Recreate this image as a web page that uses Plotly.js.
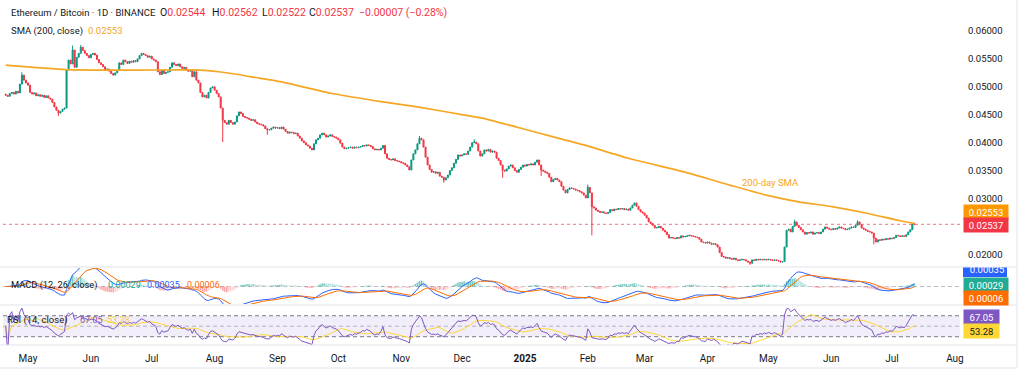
<!DOCTYPE html>
<html>
<head>
<meta charset="utf-8">
<script src="https://cdn.plot.ly/plotly-3.0.1.min.js"></script>
<style>
  html, body { margin: 0; padding: 0; background: #ffffff; }
  #chart { width: 1024px; height: 370px; }
</style>
</head>
<body>
<div id="chart"></div>
<script>
// ---------------- DATA ----------------
const startDate = '2024-04-20';   // first daily candle
const firstOpen = 0.0487;         // open of the first candle

// daily closes, ETH/BTC, 2024-04-20 .. 2025-07-12
const closes = [
  // 2024 Apr 20-30
  0.0485,0.0483,0.0488,0.0490,0.0487,0.0492,0.0489,0.0505,0.0521,0.0512,0.0507,
  // 2024 May
  0.0503,0.0490,0.0487,0.0489,0.0484,0.0486,0.0483,0.0485,0.0481,0.0484,
  0.0480,0.0478,0.0472,0.0464,0.0458,0.0453,0.0456,0.0460,0.0462,0.0530,
  0.0548,0.0541,0.0566,0.0535,0.0553,0.0560,0.0571,0.0565,0.0560,0.0556,0.0552,
  // 2024 Jun
  0.0558,0.0560,0.0557,0.0549,0.0543,0.0540,0.0536,0.0530,0.0532,0.0528,
  0.0524,0.0521,0.0525,0.0530,0.0543,0.0540,0.0548,0.0545,0.0542,0.0546,
  0.0544,0.0547,0.0545,0.0550,0.0556,0.0560,0.0558,0.0556,0.0553,0.0555,
  // 2024 Jul
  0.0550,0.0548,0.0545,0.0527,0.0522,0.0530,0.0524,0.0526,0.0527,0.0535,
  0.0543,0.0540,0.0538,0.0541,0.0536,0.0533,0.0535,0.0530,0.0528,0.0530,
  0.0518,0.0527,0.0512,0.0507,0.0490,0.0482,0.0485,0.0480,0.0490,0.0498,0.0500,
  // 2024 Aug
  0.0494,0.0488,0.0482,0.0462,0.0440,0.0436,0.0433,0.0440,0.0436,0.0433,
  0.0437,0.0448,0.0455,0.0452,0.0447,0.0445,0.0444,0.0442,0.0440,0.0441,
  0.0437,0.0434,0.0433,0.0432,0.0430,0.0425,0.0423,0.0423,0.0426,0.0428,0.0426,
  // 2024 Sep
  0.0427,0.0425,0.0428,0.0424,0.0420,0.0417,0.0419,0.0418,0.0416,0.0417,
  0.0412,0.0408,0.0403,0.0400,0.0396,0.0394,0.0390,0.0387,0.0398,0.0405,
  0.0408,0.0414,0.0417,0.0414,0.0410,0.0412,0.0414,0.0411,0.0410,0.0408,
  // 2024 Oct
  0.0405,0.0399,0.0392,0.0389,0.0390,0.0391,0.0392,0.0390,0.0392,0.0391,
  0.0392,0.0393,0.0395,0.0394,0.0396,0.0395,0.0393,0.0389,0.0387,0.0388,
  0.0387,0.0390,0.0395,0.0380,0.0372,0.0370,0.0369,0.0371,0.0368,0.0367,0.0366,
  // 2024 Nov
  0.0364,0.0363,0.0360,0.0357,0.0351,0.0369,0.0380,0.0387,0.0398,0.0408,
  0.0405,0.0392,0.0374,0.0360,0.0352,0.0347,0.0348,0.0345,0.0347,0.0340,
  0.0338,0.0333,0.0337,0.0342,0.0350,0.0355,0.0363,0.0370,0.0378,0.0376,
  // 2024 Dec
  0.0378,0.0380,0.0379,0.0385,0.0392,0.0400,0.0401,0.0398,0.0385,0.0376,
  0.0380,0.0387,0.0385,0.0388,0.0383,0.0385,0.0383,0.0372,0.0368,0.0360,
  0.0351,0.0349,0.0353,0.0358,0.0360,0.0355,0.0350,0.0347,0.0352,0.0356,0.0360,
  // 2025 Jan
  0.0358,0.0361,0.0360,0.0362,0.0360,0.0365,0.0369,0.0360,0.0351,0.0349,
  0.0347,0.0345,0.0338,0.0330,0.0334,0.0336,0.0333,0.0330,0.0322,0.0315,
  0.0310,0.0316,0.0319,0.0318,0.0317,0.0315,0.0314,0.0312,0.0310,0.0306,0.0301,
  // 2025 Feb
  0.0320,0.0310,0.0285,0.0283,0.0279,0.0277,0.0275,0.0276,0.0274,0.0273,
  0.0275,0.0280,0.0278,0.0281,0.0280,0.0282,0.0281,0.0282,0.0280,0.0281,
  0.0279,0.0283,0.0288,0.0292,0.0286,0.0280,0.0276,0.0274,
  // 2025 Mar
  0.0270,0.0265,0.0258,0.0255,0.0252,0.0247,0.0248,0.0250,0.0247,0.0243,
  0.0240,0.0235,0.0229,0.0230,0.0229,0.0228,0.0230,0.0229,0.0233,0.0231,
  0.0232,0.0233,0.0234,0.0233,0.0232,0.0231,0.0230,0.0227,0.0222,0.0221,0.0220,
  // 2025 Apr
  0.0222,0.0220,0.0218,0.0219,0.0217,0.0213,0.0203,0.0196,0.0195,0.0193,
  0.0194,0.0192,0.0191,0.0193,0.0190,0.0189,0.0190,0.0191,0.0190,0.0188,
  0.0186,0.0184,0.0190,0.0189,0.0191,0.0190,0.0191,0.0190,0.0191,0.0190,
  // 2025 May
  0.0191,0.0190,0.0189,0.0190,0.0189,0.0188,0.0186,0.0187,0.0213,0.0243,
  0.0245,0.0240,0.0250,0.0258,0.0252,0.0248,0.0244,0.0240,0.0236,0.0239,
  0.0238,0.0240,0.0236,0.0238,0.0239,0.0237,0.0240,0.0245,0.0249,0.0247,0.0245,
  // 2025 Jun
  0.0244,0.0246,0.0245,0.0247,0.0249,0.0247,0.0246,0.0244,0.0245,0.0247,
  0.0249,0.0248,0.0252,0.0258,0.0253,0.0247,0.0245,0.0243,0.0241,0.0240,
  0.0238,0.0229,0.0222,0.0226,0.0225,0.0227,0.0226,0.0228,0.0227,0.0229,
  // 2025 Jul 1-12
  0.0228,0.0230,0.0234,0.0233,0.0232,0.0233,0.0232,0.0235,0.0240,0.0244,0.02544,0.02537
];

// notable wicks visible in the picture
const highWickDates  = ['2024-04-28','2024-05-23','2024-05-27','2024-11-10','2024-12-07','2025-02-01','2025-05-14','2025-06-14','2025-07-12'];
const highWickValues = [0.0526,0.0574,0.0575,0.0412,0.0406,0.0325,0.0262,0.0261,0.02562];
const lowWickDates   = ['2024-05-16','2024-08-05','2024-08-27','2024-11-22','2024-12-21','2025-01-09','2025-02-03','2025-04-22','2025-06-22','2025-07-12'];
const lowWickValues  = [0.0448,0.0401,0.0414,0.0328,0.0337,0.0340,0.0234,0.0181,0.0218,0.02522];

// 200-day SMA
const smaDates  = ['2024-04-20','2024-05-20','2024-06-22','2024-07-25','2024-08-03','2024-08-11','2024-08-19','2024-09-03','2024-09-28','2024-10-23','2024-11-09','2024-12-03','2024-12-11','2025-01-05','2025-01-30','2025-02-21','2025-03-20','2025-04-12','2025-04-30','2025-05-16','2025-06-02','2025-06-18','2025-07-05','2025-07-12'];
const smaValues = [0.0539,0.0531,0.0530,0.0530,0.0527,0.0523,0.0518,0.0509,0.0488,0.0473,0.0464,0.0449,0.0444,0.0420,0.0396,0.0372,0.0348,0.0324,0.0306,0.0294,0.0285,0.0274,0.0260,0.02553];

// axis ticks
const priceTicks = [0.02,0.03,0.035,0.04,0.045,0.05,0.055,0.06];
const monthTicks = ['2024-05-01','2024-06-01','2024-07-01','2024-08-01','2024-09-01','2024-10-01','2024-11-01','2024-12-01','2025-01-01','2025-02-01','2025-03-01','2025-04-01','2025-05-01','2025-06-01','2025-07-01','2025-08-01'];
const monthLabels = ['May','Jun','Jul','Aug','Sep','Oct','Nov','Dec','<b>2025</b>','Feb','Mar','Apr','May','Jun','Jul','Aug'];

// legend / last-value texts
const symbolTitle = 'Ethereum / Bitcoin · 1D · BINANCE';
const headerKeys   = ['O','H','L','C',''];
const headerValues = ['0.02544','0.02562','0.02522','0.02537','−0.00007 (−0.28%)'];
const smaTitle = 'SMA (200, close)';
const smaLast = '0.02553';
const macdTitle = 'MACD (12, 26, close)';
const macdLast = {hist:'0.00029', macd:'0.00035', signal:'0.00006'};
const rsiTitle = 'RSI (14, close)';
const rsiLast = {rsi:'67.05', ma:'53.28'};

// ---------------- BUILD ----------------
function dayStr(i){
  const d = new Date(startDate + 'T00:00:00Z');
  d.setUTCDate(d.getUTCDate() + i);
  return d.toISOString().slice(0,10);
}
const dates = closes.map((_, i) => dayStr(i));
const opens = closes.map((c, i) => i === 0 ? firstOpen : closes[i-1]);
const highs = closes.map((c, i) => Math.max(c, opens[i]));
const lows  = closes.map((c, i) => Math.min(c, opens[i]));
highWickDates.forEach((d, k) => { const i = dates.indexOf(d); if (i >= 0) highs[i] = Math.max(highs[i], highWickValues[k]); });
lowWickDates.forEach((d, k) => { const i = dates.indexOf(d); if (i >= 0) lows[i] = Math.min(lows[i], lowWickValues[k]); });

// indicators derived from the closes (standard definitions)
function ema(arr, n){
  const k = 2/(n+1); const out = [];
  arr.forEach((v, i) => out.push(i === 0 ? v : v*k + out[i-1]*(1-k)));
  return out;
}
const e12 = ema(closes, 12), e26 = ema(closes, 26);
const macd = closes.map((_, i) => e12[i] - e26[i]);
const signal = ema(macd, 9);
const hist = macd.map((m, i) => m - signal[i]);
const histColors = hist.map((h, i) => {
  const p = i > 0 ? hist[i-1] : h;
  if (h >= 0) return h >= p ? 'rgba(38,166,154,0.6)' : 'rgba(178,223,219,0.9)';
  return h < p ? 'rgba(255,82,82,0.5)' : 'rgba(255,205,210,0.9)';
});

const rsi = [];
let ag = 0, al = 0;
for (let i = 0; i < closes.length; i++){
  if (i === 0){ rsi.push(50); continue; }
  const ch = closes[i] - closes[i-1];
  const g = Math.max(ch, 0), l = Math.max(-ch, 0);
  const n = Math.min(i, 14);
  ag = (ag*(n-1) + g)/n; al = (al*(n-1) + l)/n;
  rsi.push(al === 0 ? 100 : 100 - 100/(1 + ag/al));
}
const rsiMa = rsi.map((_, i) => {
  const s = Math.max(0, i-13); const w = rsi.slice(s, i+1);
  return w.reduce((a,b)=>a+b,0)/w.length;
});

// ---------------- LAYOUT HELPERS ----------------
const H = 370, T = 2, B = 25, L = 3, R = 64;
const plotH = H - T - B, plotW = 1024 - L - R;
const py = p => (H - B - p) / plotH;    // pixel y -> paper y
const px = p => (p - L) / plotW;        // pixel x -> paper x
const RED = '#F23645', GREEN = '#089981', SMA_COL = '#F5A623';
const TXT = '#131722';

const traces = [
  {type:'candlestick', x:dates, open:opens, high:highs, low:lows, close:closes,
   xaxis:'x', yaxis:'y', whiskerwidth:0,
   increasing:{line:{color:GREEN, width:1}, fillcolor:GREEN},
   decreasing:{line:{color:RED, width:1}, fillcolor:RED},
   hoverinfo:'skip'},
  {type:'scatter', mode:'lines', x:smaDates, y:smaValues, xaxis:'x', yaxis:'y',
   line:{color:SMA_COL, width:1.7, shape:'spline', smoothing:0.6}, hoverinfo:'skip'},
  {type:'bar', x:dates, y:hist, xaxis:'x', yaxis:'y2', marker:{color:histColors, line:{width:0}}, hoverinfo:'skip'},
  {type:'scatter', mode:'lines', x:dates, y:macd, xaxis:'x', yaxis:'y2', line:{color:'#2962FF', width:1}, hoverinfo:'skip'},
  {type:'scatter', mode:'lines', x:dates, y:signal, xaxis:'x', yaxis:'y2', line:{color:'#FF6D00', width:1}, hoverinfo:'skip'},
  {type:'scatter', mode:'lines', x:dates, y:rsiMa, xaxis:'x', yaxis:'y3', line:{color:'#FDD835', width:1}, hoverinfo:'skip'},
  {type:'scatter', mode:'lines', x:dates, y:rsi, xaxis:'x', yaxis:'y3', line:{color:'#7E57C2', width:1}, hoverinfo:'skip'}
];

const span = (c, t) => `<span style="color:${c}">${t}</span>`;
const txt = (xp, yp, text, size, color) => ({xref:'paper', yref:'paper', x:px(xp), y:py(yp), xanchor:'left', yanchor:'middle',
  showarrow:false, borderpad:0, text:text, font:{size:size, color:color || TXT}});
const tag = (yp, text, bg, w, fg) => ({xref:'paper', yref:'paper', x:px(963), y:py(yp), xanchor:'left', yanchor:'middle',
  showarrow:false, width:w, height:10, borderpad:2, bgcolor:bg, font:{size:9.5, color:fg || '#ffffff'}, text:text});

const headerX = [159, 211, 261, 308, 358];
const annotations = [
  txt(10, 13, symbolTitle, 9.5),
  ...headerKeys.map((k, i) => txt(headerX[i], 13, k + span(RED, headerValues[i]), 10.5)),
  txt(10, 31, smaTitle, 9.5),
  txt(87, 31, smaLast, 9.5, SMA_COL),
  txt(10, 285, macdTitle, 9.3),
  txt(107, 285, macdLast.hist, 9, '#22AB94'),
  txt(146, 285, macdLast.macd, 9, '#2962FF'),
  txt(186, 285, macdLast.signal, 9, '#FF6D00'),
  txt(6, 320, rsiTitle, 9.5),
  txt(79, 320, rsiLast.rsi, 9, '#7E57C2'),
  txt(106, 320, rsiLast.ma, 9, '#F2C94C'),
  {xref:'x', yref:'y', x:'2025-05-02', y:0.0328, showarrow:false, xanchor:'center', yanchor:'middle',
   font:{size:9.5, color:SMA_COL}, text:'200-day SMA'},
  // right-scale value labels
  tag(211.5, smaLast, '#FF9800', 40),
  tag(225, headerValues[3], RED, 40),
  {xref:'paper', yref:'paper', x:px(965), y:py(268.5), xanchor:'left', yanchor:'middle', showarrow:false,
   width:40, height:10, font:{size:9.5, color:'#ffffff'}, text:macdLast.macd},
  tag(285, macdLast.hist, '#22AB94', 40),
  tag(297.5, macdLast.signal, '#FF6D00', 40),
  tag(316.5, rsiLast.rsi, '#7E57C2', 31),
  tag(331, rsiLast.ma, '#FDD835', 31, TXT)
];

const shapes = [
  // RSI band and levels
  {type:'rect', xref:'paper', yref:'y3', x0:0, x1:1, y0:30, y1:70, fillcolor:'rgba(126,87,194,0.1)', line:{width:0}, layer:'below'},
  {type:'line', xref:'paper', yref:'y3', x0:0, x1:1, y0:70, y1:70, line:{color:'#787B86', width:1, dash:'4px,3px'}, layer:'below'},
  {type:'line', xref:'paper', yref:'y3', x0:0, x1:1, y0:50, y1:50, line:{color:'rgba(120,123,134,0.5)', width:1, dash:'4px,3px'}, layer:'below'},
  {type:'line', xref:'paper', yref:'y3', x0:0, x1:1, y0:30, y1:30, line:{color:'#787B86', width:1, dash:'4px,3px'}, layer:'below'},
  // MACD zero line
  {type:'line', xref:'paper', yref:'y2', x0:0, x1:1, y0:0, y1:0, line:{color:'rgba(120,123,134,0.5)', width:1, dash:'4px,3px'}, layer:'below'},
  // last price dotted line
  {type:'line', xref:'paper', yref:'y', x0:0, x1:1, y0:0.02537, y1:0.02537, line:{color:'rgba(242,54,69,0.7)', width:1, dash:'dot'}, layer:'below'},
  // pane separators
  {type:'line', xref:'paper', yref:'paper', x0:px(0), x1:px(1017), y0:py(267), y1:py(267), line:{color:'#E0E3EB', width:1}},
  {type:'line', xref:'paper', yref:'paper', x0:px(0), x1:px(1017), y0:py(305), y1:py(305), line:{color:'#E0E3EB', width:1}},
  {type:'line', xref:'paper', yref:'paper', x0:px(0), x1:px(1017), y0:py(345), y1:py(345), line:{color:'#E0E3EB', width:1}},
  // outer frame (right / bottom)
  {type:'line', xref:'paper', yref:'paper', x0:px(1017), x1:px(1017), y0:py(0), y1:py(368), line:{color:'#E0E3EB', width:1}},
  {type:'line', xref:'paper', yref:'paper', x0:px(0), x1:px(1017), y0:py(368), y1:py(368), line:{color:'#E0E3EB', width:1}},
  // MACD blue label (partly hidden under the pane edge)
  {type:'rect', xref:'paper', yref:'paper', x0:px(963), x1:px(1007), y0:py(267.5), y1:py(277), fillcolor:'#2962FF', line:{width:0}}
];

const layout = {
  width:1024, height:H,
  margin:{l:L, r:R, t:T, b:B, pad:0},
  paper_bgcolor:'#ffffff', plot_bgcolor:'#ffffff',
  showlegend:false, bargap:0.2,
  font:{family:'Roboto, "Open Sans", sans-serif', size:9.5, color:TXT},
  xaxis:{type:'date', anchor:'y3', range:['2024-04-18 16:00','2025-08-03 12:00'],
         tickvals:monthTicks, ticktext:monthLabels, ticks:'', showgrid:false, zeroline:false, showline:false,
         tickfont:{size:10, color:TXT}, ticklabelstandoff:6, rangeslider:{visible:false}, fixedrange:true},
  yaxis:{domain:[py(266), 1], range:[0.0179, 0.0652], side:'right', anchor:'x',
         tickvals:priceTicks, ticktext:priceTicks.map(v => v.toFixed(5)),
         ticks:'', showgrid:false, zeroline:false, showline:false, tickfont:{size:9.5, color:TXT},
         ticklabelstandoff:7, fixedrange:true},
  yaxis2:{domain:[py(304), py(268)], range:[-0.00175, 0.00185], anchor:'x', side:'right',
          showticklabels:false, showgrid:false, zeroline:false, showline:false, fixedrange:true},
  yaxis3:{domain:[0, py(306)], range:[14.2, 88.5], anchor:'x', side:'right',
          showticklabels:false, showgrid:false, zeroline:false, showline:false, fixedrange:true},
  annotations:annotations,
  shapes:shapes
};

Plotly.newPlot('chart', traces, layout, {staticPlot:true, displayModeBar:false});
</script>
</body>
</html>
